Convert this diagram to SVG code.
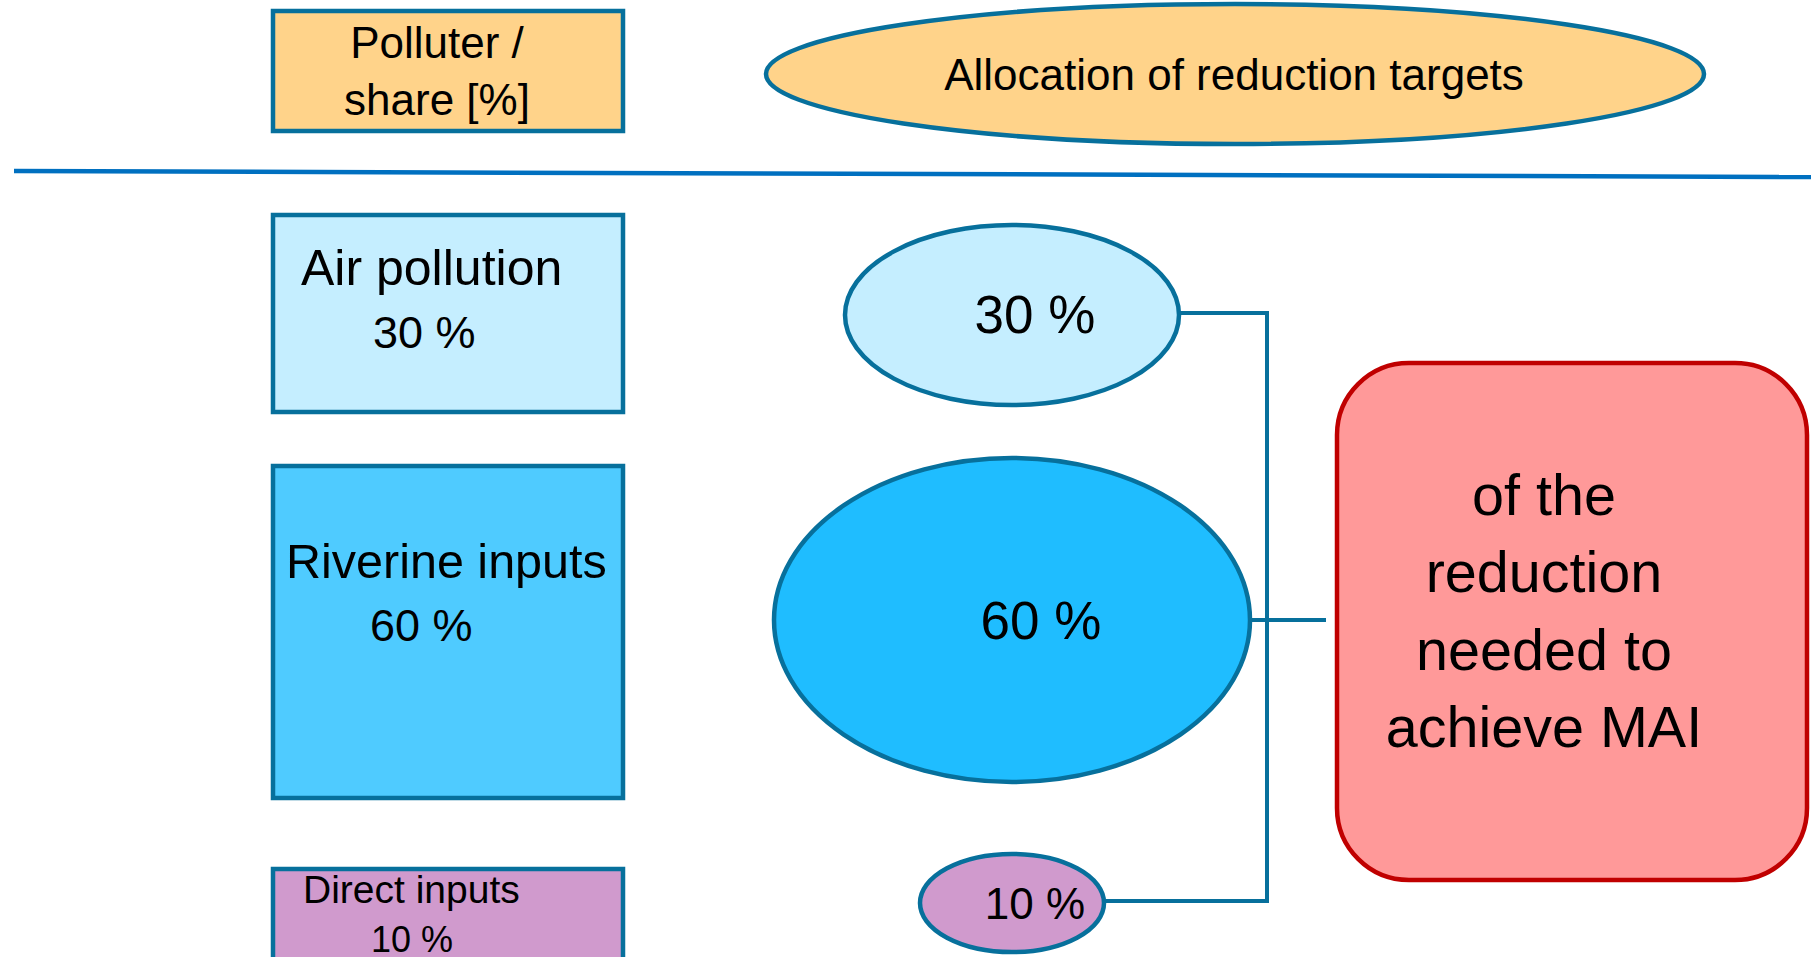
<svg xmlns="http://www.w3.org/2000/svg" width="1811" height="957" viewBox="0 0 1811 957">
<style>
.t{font-family:"Liberation Sans",Arial,sans-serif;fill:#000}
.box{stroke:#07709C;stroke-width:4.5}
.ell{stroke:#07709C;stroke-width:4.5}
.conn{stroke:#07709C;stroke-width:4;fill:none}
</style>
<rect width="1811" height="957" fill="#fff"/>
<g id="header-polluter">
<rect class="box" x="273" y="11" width="350" height="120" fill="#FFD38A"/>
<text class="t" x="437" y="58" font-size="44" text-anchor="middle">Polluter /</text>
<text class="t" x="437" y="115" font-size="44" text-anchor="middle">share [%]</text>
</g>
<g id="header-allocation">
<ellipse class="ell" cx="1235" cy="74" rx="469" ry="70" fill="#FFD38A"/>
<text class="t" x="1234" y="90" font-size="44" text-anchor="middle">Allocation of reduction targets</text>
</g>
<line id="divider" x1="14" y1="171" x2="1811" y2="177" stroke="#0070C0" stroke-width="4.5"/>
<g id="air-box">
<rect class="box" x="273" y="215" width="350" height="197" fill="#C5EEFF"/>
<text class="t" x="301" y="285" font-size="50">Air pollution</text>
<text class="t" x="373" y="348" font-size="45">30 %</text>
</g>
<g id="riverine-box">
<rect class="box" x="273" y="466" width="350" height="332" fill="#4FCBFF"/>
<text class="t" x="286" y="578" font-size="48.5">Riverine inputs</text>
<text class="t" x="370" y="641" font-size="45">60 %</text>
</g>
<g id="direct-box">
<rect class="box" x="273" y="869" width="350" height="100" fill="#D09ACD"/>
<text class="t" x="303" y="903" font-size="39">Direct inputs</text>
<text class="t" x="371" y="952" font-size="36">10 %</text>
</g>
<g id="connectors">
<polyline class="conn" points="1180,313 1267,313 1267,901 1104,901"/>
<line class="conn" x1="1250" y1="620" x2="1326" y2="620"/>
</g>
<g id="air-ellipse">
<ellipse class="ell" cx="1012" cy="315" rx="167" ry="90" fill="#C5EEFF"/>
<text class="t" x="1035" y="333" font-size="53" text-anchor="middle">30 %</text>
</g>
<g id="riverine-ellipse">
<ellipse class="ell" cx="1012" cy="620" rx="238" ry="162" fill="#1FBDFF"/>
<text class="t" x="1041" y="639" font-size="53" text-anchor="middle">60 %</text>
</g>
<g id="direct-ellipse">
<ellipse class="ell" cx="1012" cy="903" rx="92" ry="49" fill="#D09ACD"/>
<text class="t" x="1035" y="919" font-size="44" text-anchor="middle">10 %</text>
</g>
<g id="target-box">
<rect x="1337" y="363" width="470" height="517" rx="72" ry="72" fill="#FF9999" stroke="#C00000" stroke-width="4.5"/>
<text class="t" x="1544" y="515" font-size="57.5" text-anchor="middle">of the</text>
<text class="t" x="1544" y="592" font-size="57.5" text-anchor="middle">reduction</text>
<text class="t" x="1544" y="670" font-size="57.5" text-anchor="middle">needed to</text>
<text class="t" x="1544" y="747" font-size="57.5" text-anchor="middle">achieve MAI</text>
</g>
</svg>
